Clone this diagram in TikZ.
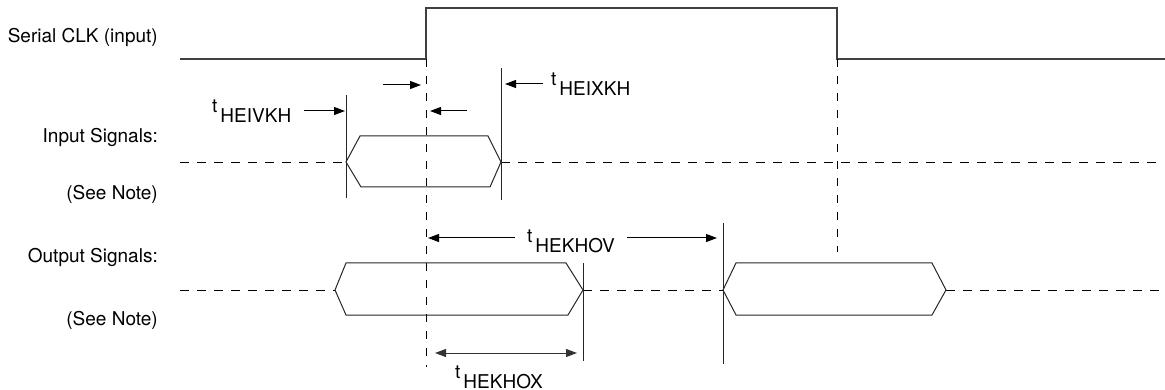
\documentclass[tikz,border=0pt]{standalone}
\usepackage{fontspec}
\setmainfont{TeX Gyre Heros}
\usepackage{tikz}
\tikzset{
    signame/.style={anchor=base east, inner sep=0pt, font=\fontsize{19}{22}\selectfont},
    tname/.style={anchor=base west, inner sep=0pt, font=\fontsize{19}{22}\selectfont},
    clk/.style={line width=1.3pt, black!75},
    bus/.style={line width=1pt, black!85},
    float/.style={line width=0.9pt, dash pattern=on 9pt off 8pt},
    edge/.style={line width=0.9pt, dash pattern=on 8pt off 9pt},
    marker/.style={line width=0.9pt, black!85},
    tarr/.style={-{Triangle[length=11pt,width=8pt]}, line width=1pt},
    tarrs/.style={{Triangle[length=11pt,width=8pt]}-{Triangle[length=11pt,width=8pt]}, line width=1pt, black!80} }
\usetikzlibrary{calc, positioning, arrows.meta}
\newcommand{\tsub}[1]{\raisebox{10pt}{t}\hspace{3pt}#1}

\begin{document}
\begin{tikzpicture}[x=1pt, y=-1pt]
			\useasboundingbox (0,0) rectangle (1165,390);
			% ---- signal names
			\node[signame] (clkname) at (158,43) {Serial CLK (input)};
			\node[signame] (inname) at (158,143) {Input Signals:};
			\node[signame] (innote) at (158,200) {(See Note)};
			\node[signame] (outname) at (158,262) {Output Signals:};
			\node[signame] (outnote) at (158,325) {(See Note)};
			% ---- clock
			\coordinate (c0) at (180,59);
			\coordinate (rise) at (426,59);
			\coordinate (fall) at (837,59);
			\coordinate (c1) at (1165,59);
			\draw[clk] (c0) -- (rise) -- ++(0,-51) -| (fall) -- (c1);
			\draw[edge] (rise) -- ++(0,308);
			\draw[edge] (fall) -- ++(0,193);
			% ---- input signals
			\coordinate (i0) at (180,162);
			\coordinate (ia) at (346,162);
			\coordinate (ib) at (501,162);
			\coordinate (i1) at (1160,162);
			\draw[float] (i0) -- (ia);
			\draw[float] (ib) -- (i1);
			\draw[bus] (ia) -- (360,136) -- (488,136) -- (ib) -- (490,187) -- (361,187) -- cycle;
			\draw[marker] (ia |- 0,95) -- (ia |- 0,198);
			\draw[marker] (ib |- 0,68) -- (ib |- 0,200);
			% ---- output signals
			\coordinate (o0) at (180,290);
			\coordinate (oa) at (335,290);
			\coordinate (ob) at (583,290);
			\coordinate (oc) at (723,290);
			\coordinate (od) at (946,290);
			\coordinate (o1) at (1160,290);
			\draw[float] (o0) -- (oa);
			\draw[float] (ob) -- (oc);
			\draw[float] (od) -- (o1);
			\draw[bus] (oa) -- (346,263) -- (566,263) -- (ob) -- (568,315) -- (346,315) -- cycle;
			\draw[bus] (oc) -- (736,263) -- (932,263) -- (od) -- (932,315) -- (736,315) -- cycle;
			\draw[marker] (ob |- 0,263) -- (ob |- 0,361);
			\draw[marker] (oc |- 0,223) -- (oc |- 0,364);
			% ---- timing labels
			\node[tname] (ivkh) at (212,123) {\tsub{HEIVKH}};
			\node[tname] (ixkh) at (551,96) {\tsub{HEIXKH}};
			\node[tname] (khov) at (527,253) {\tsub{HEKHOV}};
			\node[tname] (khox) at (455,388) {\tsub{HEKHOX}};
			% ---- timing arrows
			\coordinate (ivkhtail) at (304,111);
			\coordinate (setuptail) at (383,85);
			\coordinate (holdtail) at (467,111);
			\coordinate (ixkhtail) at (543,84);
			\coordinate (khovl) at (515,238);
			\coordinate (khovr) at (627,238);
			\coordinate (khoxl) at (435,353);
			\draw[tarr] (ivkhtail) -- ($(ivkhtail -| ia)+(-1,0)$);
			\draw[tarr] (setuptail) -- ($(setuptail -| rise)+(-5,0)$);
			\draw[tarr] (holdtail) -- ($(holdtail -| rise)+(4,0)$);
			\draw[tarr] (ixkhtail) -- ($(ixkhtail -| ib)+(4,0)$);
			\draw[tarr] (khovl) -- ($(khovl -| rise)+(2,0)$);
			\draw[tarr] (khovr) -- ($(khovr -| oc)+(-6,0)$);
			\draw[tarrs] (khoxl) -- ($(khoxl -| ob)+(-6,0)$);
		\end{tikzpicture}
\end{document}
